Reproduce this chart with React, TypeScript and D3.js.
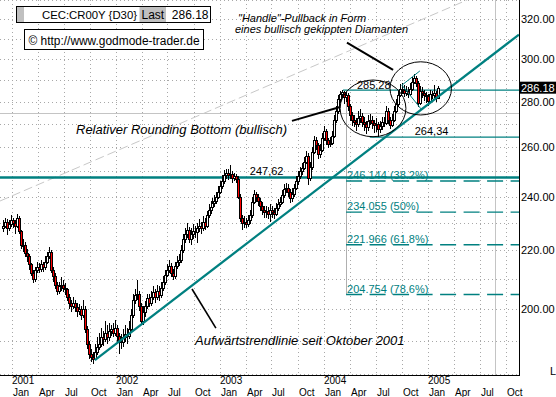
import React from "react";
import * as d3 from "d3";

// ---------- data ----------
const firstWeek = "2000-12-01";
const firstOpen = 228;

const closes = [
  229, 230.5, 228, 229.5, 231, 230, 229, 232, 227, 222,
  222, 219, 218, 215, 212, 210, 213, 214, 213.5, 215,
  214, 216, 218, 219.5, 213, 211, 208, 206, 207.5, 208,
  207, 206.5, 204, 202, 201, 202, 200.5, 199.5, 200, 198,
  200, 193.5, 189, 186, 185, 184.5, 186.5, 188, 189, 191,
  190.5, 192.5, 191, 193, 193.5, 192.5, 194, 191.5, 190, 189.5,
  191, 192, 191.5, 193.5, 198, 203, 204.5, 205, 201, 196,
  199, 201, 203.5, 202, 204, 205.5, 204, 206, 204.5, 207,
  209, 211.5, 213, 214.5, 212, 211, 214.5, 216, 216.5, 220,
  224, 226, 227.5, 224, 226, 227, 226.5, 228, 229, 228,
  230.5, 229, 233, 235, 236, 237.5, 238.5, 240, 242, 244,
  246, 248.5, 249.5, 248.5, 249, 247.5, 248, 247, 240, 232,
  230, 230.5, 229.5, 231, 233, 238, 241, 240, 238.5, 236.5,
  235, 234, 234.5, 233.5, 235, 234, 233.5, 235.5, 237, 238,
  240.5, 243, 243.5, 242, 239.5, 241, 243.5, 246, 248, 250,
  251.5, 254, 256.5, 247.5, 252, 258, 263, 261, 257, 259,
  264, 267, 263, 261.5, 262, 265, 272, 276, 281, 283.5,
  284.5, 282, 283, 278, 274, 272, 271, 270, 272.5, 273.5,
  271, 270, 268.5, 271.5, 272, 270.5, 269.5, 270, 268, 269,
  271, 270.5, 276, 272, 269.5, 272, 276, 279, 283, 286,
  285.5, 284, 285, 283.5, 286, 289, 291, 288.5, 279.5, 285,
  284, 283, 282.5, 280.5, 283.5, 283, 284, 281.5, 286.18,
];

const highs = [
  231, 232, 231.5, 231, 233, 232, 231, 233.5, 232.5, 227.5,
  224, 223, 220.5, 218.5, 215.5, 213, 214, 216, 215.5, 216.5,
  216, 218, 219.5, 221, 220, 214, 212, 209, 209, 210.5,
  209.5, 208.5, 207, 205, 203, 204, 203, 202, 201.5, 201,
  203, 201, 194.5, 190, 187.5, 186.5, 189, 191, 192.5, 194,
  193, 196, 195, 195.5, 195, 195.5, 196.5, 195, 192.5, 192,
  193.5, 195, 194, 196, 200, 205, 206.5, 209.5, 206, 202,
  201, 202.5, 205, 205, 206, 207.5, 206.5, 208, 207.5, 209,
  211, 213, 215, 216.5, 215.5, 213.5, 216, 218, 218.5, 222,
  226, 228, 230, 228.5, 228, 229.5, 229, 230, 231.5, 230.5,
  232.5, 232, 234.5, 237, 238.5, 239.5, 240.5, 242, 244, 246,
  248.5, 250.5, 251, 251, 252.5, 250, 249.5, 249, 248, 241,
  233, 232.5, 232, 233, 235, 240, 242.5, 242, 241, 239.5,
  238, 236.5, 236.5, 236, 237, 236.5, 235.5, 237.5, 239, 240,
  242.5, 245, 245.5, 245, 243, 243.5, 245, 248, 250, 252,
  253.5, 256, 258.5, 257.5, 254, 260, 265, 264.5, 262, 261.5,
  266, 269, 268, 264, 264.5, 267, 274, 278, 283, 285,
  285.3, 285, 284.5, 284, 279, 275.5, 274, 272.5, 276, 276.5,
  275, 273, 271.5, 274, 274.5, 273.5, 272, 272.5, 271, 271.5,
  273, 273, 278, 277, 273, 274.5, 278, 281, 285, 288,
  288.5, 287.5, 287, 286.5, 288.5, 291.5, 292.8, 292, 289.5, 287,
  286.5, 285.5, 284.5, 283.5, 285.5, 285, 287.5, 285, 287,
];

const lows = [
  226.5, 228, 225.5, 227, 228.5, 228, 226, 228, 226, 220.5,
  219.5, 217.5, 216, 213, 211, 208.5, 209, 212, 212, 212.5,
  212.5, 213, 215, 217, 212, 209, 206.5, 204.5, 205, 206,
  205.5, 204.5, 202.5, 200, 199, 200, 199, 197.5, 198, 196.5,
  197, 192.5, 187.5, 184.5, 183.5, 182.8, 184, 185.5, 187, 188,
  188.5, 189.5, 189, 190, 191.5, 191, 191.5, 189.5, 186, 187.5,
  188, 189.5, 189, 190.5, 192.5, 197, 201.5, 203, 199.5, 195,
  195, 197.5, 200, 200.5, 201, 203, 202, 203, 202.5, 203.5,
  206, 208, 210.5, 212, 210.5, 209.5, 210, 213.5, 214.5, 215.5,
  219, 222.5, 224.5, 222.5, 222, 224, 224.5, 222.5, 226.5, 226,
  227, 227.5, 228, 232, 233.5, 235, 236, 237, 239, 241,
  243, 245, 247, 246.5, 247, 245.5, 246, 245.5, 239, 230.5,
  227.5, 228, 228, 228.5, 229.5, 232, 237, 238, 236.5, 234.5,
  233, 232, 232, 231.5, 230.5, 232, 231.5, 232.5, 234.5, 236,
  237, 239.5, 241.5, 240, 237.5, 238, 240, 242.5, 244.5, 247,
  248.5, 250.5, 253, 244.5, 246, 250.5, 257, 259, 255, 255.5,
  258, 262.5, 261, 259.5, 260, 261, 264, 270.5, 274.5, 279.5,
  281.5, 279, 280, 276, 271.5, 269, 268.5, 267, 268.5, 270.5,
  268.5, 267, 265.5, 267, 269.5, 268, 266, 266.5, 264.4, 266,
  267.5, 268.5, 269.5, 270, 268, 268.5, 271, 275, 277.5, 282,
  283.5, 282, 282.5, 281.5, 282.5, 285, 288, 286.5, 277.5, 278.5,
  281.5, 280.5, 279.5, 278, 279.5, 281, 281.5, 280, 281,
];

const yTickValues = [200, 220, 240, 260, 280, 300, 320];
const yGridValues = [180, 190, 200, 210, 220, 230, 240, 250, 260, 270, 280, 290, 300, 310, 320, 330];
const monthLabels = ["Jan", "Apr", "Jul", "Oct"];
const lastPrice = 286.18;
const symbolText = "CEC:CR00Y {D30}";
const copyrightText = "© http://www.godmode-trader.de";

const resistanceLevel = 247.62;
const resistanceLabel = "247,62";
const peakLevel = 285.28;
const peakLabel = "285,28";
const lowLevel = 264.34;
const lowLabel = "264,34";
const grayLevel = 275;

const fibValues = [246.144, 234.055, 221.966, 204.754];
const fibTexts = ["246.144 (38.2%)", "234.055 (50%)", "221.966 (61.8%)", "204.754 (78.6%)"];
const fibStart = "2004-03-19";

const trendLine = [["2001-10-19", 184.1], ["2005-11-16", 312.2]];
const grayDiagonal = [["2000-11-20", 238.3], ["2005-05-18", 330.2]];
const grayVerticalDate = "2005-08-25";
const peakLineStart = "2004-03-08";
const lowLineStart = "2004-06-10";

const bottomEllipse = [["2004-02-27", 290.0], ["2004-10-15", 264.5]];
const handleEllipse = [["2004-08-20", 298.7], ["2005-03-24", 274.0]];
const diamond = [["2004-12-03", 294.3], ["2004-10-01", 287.6], ["2004-12-07", 276.7]];

const leaderBottom = [["2003-09-11", 271.4], ["2004-02-27", 277.6]];
const leaderHandle = [["2004-03-22", 308.1], ["2004-08-31", 294.8]];
const leaderTrend = [["2002-09-25", 206.6], ["2002-12-18", 193.9]];

const labelDates = { resistance: "2003-04-16", peak: "2004-04-26", low: "2004-11-15" };

// ---------- layout ----------
const W = 556;
const H = 397;
const PR = 519;
const PB = 376;
const TEAL = "#008080";
const FONT = "Arial, 'Liberation Sans', sans-serif";

const parse = d3.timeParse("%Y-%m-%d");

export default function App() {
  const x = d3.scaleTime().domain([new Date(2000, 10, 20), new Date(2005, 10, 16)]).range([0, PR]);
  const y = d3.scaleLog().domain([179.4, 330.2]).range([PB, 0]);
  const px = (s: string) => x(parse(s) as Date);

  const start = parse(firstWeek) as Date;
  const candles = closes.map((c, i) => ({
    date: d3.timeDay.offset(start, 7 * i),
    open: i === 0 ? firstOpen : closes[i - 1],
    close: c,
    high: highs[i],
    low: lows[i],
  }));

  const quarters = d3.timeMonth.every(3)!.range(new Date(2001, 0, 1), new Date(2005, 11, 1));

  const seg = (pts: any[], props: any, key?: string) => (
    <line key={key} x1={px(pts[0][0])} y1={y(pts[0][1])} x2={px(pts[1][0])} y2={y(pts[1][1])} {...props} />
  );
  const ell = (b: any[], key: string) => {
    const x1 = px(b[0][0]), x2 = px(b[1][0]);
    const y1 = y(b[0][1]), y2 = y(b[1][1]);
    return (
      <ellipse key={key} cx={(x1 + x2) / 2} cy={(y1 + y2) / 2} rx={(x2 - x1) / 2} ry={(y2 - y1) / 2}
        fill="none" stroke="#000" strokeWidth={1} />
    );
  };

  const fx = px(fibStart);

  return (
    <div style={{ position: "absolute", left: 0, top: 0 }}>
      <svg width={W} height={H} style={{ display: "block", background: "#fff" }} fontFamily={FONT}>
        <defs>
          <clipPath id="plot">
            <rect x={0} y={0} width={PR} height={PB} />
          </clipPath>
        </defs>
        <rect x={0} y={0} width={W} height={H} fill="#fff" />

        {/* grid */}
        <g stroke="#a8a8a8" strokeWidth={1} strokeDasharray="1,3" shapeRendering="crispEdges">
          {yGridValues.map((v) => (
            <line key={"hg" + v} x1={0} x2={PR} y1={Math.round(y(v)) + 0.5} y2={Math.round(y(v)) + 0.5} />
          ))}
          {quarters.map((d, i) => (
            <line key={"vg" + i} x1={Math.round(x(d)) + 0.5} x2={Math.round(x(d)) + 0.5} y1={0} y2={PB} />
          ))}
        </g>

        <g clipPath="url(#plot)">
          {/* gray helper lines */}
          <line x1={0} x2={PR} y1={Math.round(y(grayLevel)) + 0.5} y2={Math.round(y(grayLevel)) + 0.5}
            stroke="#c4c4c4" strokeWidth={1} />
          <line x1={Math.round(px(grayVerticalDate)) + 0.5} x2={Math.round(px(grayVerticalDate)) + 0.5}
            y1={0} y2={PB} stroke="#c4c4c4" strokeWidth={1} />
          {seg(grayDiagonal, { stroke: "#c8c8c8", strokeWidth: 1, strokeDasharray: "9,4" })}
          <line x1={Math.round(fx) + 0.5} x2={Math.round(fx) + 0.5} y1={y(peakLevel)} y2={y(fibValues[3])}
            stroke="#b0b0b0" strokeWidth={1} />

          {/* level lines */}
          <line x1={0} x2={PR} y1={y(resistanceLevel)} y2={y(resistanceLevel)} stroke={TEAL} strokeWidth={2.5} />
          <line x1={px(peakLineStart)} x2={PR} y1={y(peakLevel)} y2={y(peakLevel)} stroke={TEAL} strokeWidth={1.2} />
          <line x1={px(lowLineStart)} x2={PR} y1={y(lowLevel)} y2={y(lowLevel)} stroke={TEAL} strokeWidth={1.2} />
          {fibValues.map((v) => (
            <line key={"fib" + v} x1={fx} x2={PR} y1={y(v)} y2={y(v)} stroke={TEAL} strokeWidth={1.4}
              strokeDasharray="16,7.5" />
          ))}

          {/* candles */}
          <g shapeRendering="crispEdges">
            {candles.map((c, i) => {
              const cx = Math.round(x(c.date));
              return (
                <line key={"w" + i} x1={cx + 0.5} x2={cx + 0.5} y1={y(c.high)} y2={y(c.low)} stroke="#000" strokeWidth={1} />
              );
            })}
            {candles.map((c, i) => {
              const cx = Math.round(x(c.date));
              const top = Math.round(y(Math.max(c.open, c.close)));
              const bot = Math.round(y(Math.min(c.open, c.close)));
              const down = c.close < c.open;
              return (
                <rect key={"b" + i} x={cx - 0.5} y={top + 0.5} width={2} height={Math.max(1, bot - top)}
                  fill={down ? "#ff0000" : "#ffffff"} stroke="#000" strokeWidth={1} />
              );
            })}
          </g>

          {/* trend line */}
          {seg(trendLine, { stroke: TEAL, strokeWidth: 2.3 })}

          {/* diamond */}
          <polyline
            points={diamond.map((p) => `${px(p[0] as string)},${y(p[1] as number)}`).join(" ")}
            fill="none" stroke={TEAL} strokeWidth={1} />

          {/* ellipses */}
          {ell(bottomEllipse, "e1")}
          {ell(handleEllipse, "e2")}

          {/* leader lines */}
          {seg(leaderBottom, { stroke: "#000", strokeWidth: 2 })}
          {seg(leaderHandle, { stroke: "#000", strokeWidth: 2 })}
          {seg(leaderTrend, { stroke: "#000", strokeWidth: 1.6 })}
        </g>

        {/* level labels */}
        <g fontSize={11} fill="#000">
          <text x={px(labelDates.resistance)} y={y(resistanceLevel) - 2.5}>{resistanceLabel}</text>
          <text x={px(labelDates.peak)} y={y(peakLevel) - 1.5}>{peakLabel}</text>
          <text x={px(labelDates.low)} y={y(lowLevel) - 2}>{lowLabel}</text>
        </g>
        <g fontSize={11} fill={TEAL}>
          {fibValues.map((v, i) => (
            <text key={"ft" + v} x={fx + 1} y={y(v) - 2}>{fibTexts[i]}</text>
          ))}
        </g>

        {/* annotations */}
        <g fontStyle="italic" fill="#000">
          <text x={76} y={134} fontSize={13}>Relativer Rounding Bottom (bullisch)</text>
          <text x={195} y={345} fontSize={13}>Aufwärtstrendlinie seit Oktober 2001</text>
          <text x={238} y={22} fontSize={11}>"Handle"-Pullback in Form</text>
          <text x={235} y={33} fontSize={11}>eines bullisch gekippten Diamanten</text>
        </g>

        {/* header boxes */}
        <g>
          <rect x={16.5} y={6.5} width={194} height={16} fill="#fff" stroke="#000" strokeWidth={1} />
          <rect x={17} y={7} width={7} height={15} fill="#c0c0c0" />
          <rect x={139.5} y={7} width={26.5} height={15} fill="#c0c0c0" />
          <text x={42} y={19} fontSize={11.5} textLength={95} lengthAdjust="spacingAndGlyphs">{symbolText}</text>
          <text x={141.5} y={19} fontSize={12}>Last</text>
          <text x={208.5} y={19} fontSize={12} textAnchor="end">{lastPrice.toFixed(2)}</text>

          <rect x={24.5} y={29.5} width={179} height={20} fill="#fff" stroke="#000" strokeWidth={1} />
          <text x={28.5} y={44.5} fontSize={12} textLength={171} lengthAdjust="spacingAndGlyphs">{copyrightText}</text>
        </g>

        {/* axes */}
        <g shapeRendering="crispEdges">
          <line x1={0} x2={PR} y1={PB - 0.5} y2={PB - 0.5} stroke="#000" strokeWidth={1.5} />
          <line x1={PR + 0.5} x2={PR + 0.5} y1={0} y2={PB} stroke="#000" strokeWidth={1.5} />
        </g>
        <g fontSize={11} fill="#000">
          {yTickValues.map((v) => (
            <text key={"yl" + v} x={PR + 2} y={y(v)} dy="0.36em">{v.toFixed(2)}</text>
          ))}
        </g>
        <rect x={PR + 1} y={y(lastPrice) - 6.5} width={W - PR - 1} height={12} fill="#000" />
        <text x={PR + 2} y={y(lastPrice)} dy="0.36em" fontSize={11} fill="#fff">{lastPrice.toFixed(2)}</text>
        <text x={550} y={375} fontSize={11} fill="#000">L</text>

        <g fontSize={10} fill="#000">
          {quarters.map((d, i) => (
            <text key={"xl" + i} x={Math.round(x(d)) + 1} y={395.5}>{monthLabels[d.getMonth() / 3]}</text>
          ))}
          {quarters.filter((d) => d.getMonth() === 0).map((d) => (
            <text key={"yr" + d.getFullYear()} x={Math.round(x(d))} y={384.2}>{d.getFullYear()}</text>
          ))}
        </g>
      </svg>
    </div>
  );
}
